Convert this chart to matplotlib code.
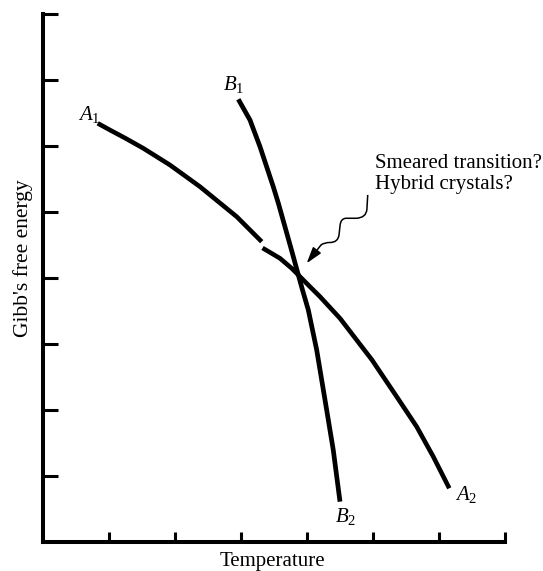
import numpy as np
import matplotlib
matplotlib.use("Agg")
import matplotlib.pyplot as plt
from matplotlib.path import Path
from matplotlib.patches import PathPatch

plt.rcParams['font.family'] = ['Liberation Serif', 'DejaVu Serif']
plt.rcParams['mathtext.fontset'] = 'custom'
plt.rcParams['mathtext.rm'] = 'Liberation Serif'
plt.rcParams['mathtext.it'] = 'Liberation Serif:italic'

# Curve A (phase A), gap marked with nan
A_T = [0.829, 1.015, 1.242, 1.520, 1.924, 2.379, 2.935, 3.314, np.nan,
       3.326, 3.591, 3.768, 4.045, 4.197, 4.500, 4.985, 5.359, 5.662, 5.914, 6.156]
A_G = [6.344, 6.242, 6.121, 5.965, 5.712, 5.383, 4.929, 4.550, np.nan,
       4.455, 4.298, 4.147, 3.868, 3.717, 3.389, 2.758, 2.202, 1.747, 1.292, 0.814]

# Curve B (phase B)
B_T = [2.959, 3.136, 3.288, 3.489, 3.565, 3.680, 3.765, 3.848, 3.932,
       4.020, 4.147, 4.273, 4.398, 4.500]
B_G = [6.708, 6.394, 5.989, 5.383, 5.136, 4.727, 4.424, 4.121, 3.818,
       3.515, 2.909, 2.152, 1.394, 0.611]

# squiggly annotation path (data units): vertices and path codes
SQ_V = [(4.920, 5.258), (4.908, 5.046),
        (4.900, 4.909), (4.742, 4.905),
        (4.591, 4.905),
        (4.508, 4.902), (4.500, 4.788),
        (4.485, 4.652),
        (4.470, 4.538), (4.348, 4.538),
        (4.258, 4.538), (4.212, 4.500)]
SQ_C = [Path.MOVETO, Path.LINETO,
        Path.CURVE3, Path.CURVE3,
        Path.LINETO,
        Path.CURVE3, Path.CURVE3,
        Path.LINETO,
        Path.CURVE3, Path.CURVE3,
        Path.CURVE3, Path.CURVE3]
ARROW_TIP = (3.995, 4.223)

x_ticks = [1, 2, 3, 4, 5, 6, 7]
y_ticks = [1, 2, 3, 4, 5, 6, 7, 8]

fig = plt.figure(figsize=(5.43, 5.71), dpi=100)
L, R, B, T = 43, 505, 542, 14
W, H = 543, 571
ax = fig.add_axes([L / W, 1 - B / H, (R - L) / W, (B - T) / H])

ax.plot(A_T, A_G, color='black', lw=3.3, solid_capstyle='butt', solid_joinstyle='round')
ax.plot(B_T, B_G, color='black', lw=3.4, solid_capstyle='butt', solid_joinstyle='round')

ax.add_patch(PathPatch(Path(SQ_V, SQ_C), facecolor='none', edgecolor='black', lw=1.1))
ax.annotate('', xy=ARROW_TIP, xytext=SQ_V[-1],
            arrowprops=dict(arrowstyle='-|>,head_length=0.55,head_width=0.17',
                            lw=1.1, color='black', mutation_scale=18,
                            shrinkA=0, shrinkB=0))

fs = 15
ax.text(0.530, 6.394, r'$A_1$', fontsize=fs, ha='left', va='baseline')
ax.text(2.727, 6.848, r'$B_1$', fontsize=fs, ha='left', va='baseline')
ax.text(4.424, 0.303, r'$B_2$', fontsize=fs, ha='left', va='baseline')
ax.text(6.242, 0.636, r'$A_2$', fontsize=fs, ha='left', va='baseline')

ax.text(5.03, 5.667, 'Smeared transition?', fontsize=fs, ha='left', va='baseline', clip_on=False)
ax.text(5.03, 5.344, 'Hybrid crystals?', fontsize=fs, ha='left', va='baseline', clip_on=False)

ax.set_xlim(0, 7)
ax.set_ylim(0, 8)
ax.set_xticks(x_ticks)
ax.set_yticks(y_ticks)
ax.set_xticklabels([])
ax.set_yticklabels([])
ax.tick_params(axis='x', direction='in', length=7.5, width=2.2, color='black')
ax.tick_params(axis='y', direction='in', length=10.5, width=2.2, color='black')
for s in ['top', 'right']:
    ax.spines[s].set_visible(False)
for s in ['left', 'bottom']:
    ax.spines[s].set_linewidth(2.9)
    ax.spines[s].set_color('black')

fig.text(272 / W, 1 - 566 / H, 'Temperature', fontsize=fs, ha='center', va='baseline')
fig.text(23 / W, 1 - 258 / H, "Gibb's free energy", fontsize=15.5, ha='center', va='center',
         rotation=90)

fig.savefig('out.png', dpi=100)
